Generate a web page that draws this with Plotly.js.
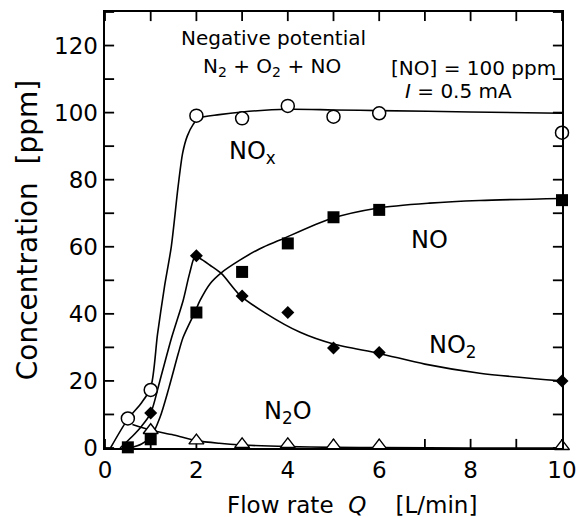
<!DOCTYPE html>
<html>
<head>
<meta charset="utf-8">
<script src="https://cdn.plot.ly/plotly-3.0.1.min.js"></script>
<style>html,body{margin:0;padding:0;background:#fff;}</style>
</head>
<body>
<div id="chart" style="width:576px;height:517px;"></div>
<script>
// measured points
const flow = [0.5, 1, 2, 3, 4, 5, 6, 10];
const noxPts = [8.8, 17.3, 99.1, 98.3, 102.0, 98.8, 99.8, 94.0];
const noPts = [0.2, 2.6, 40.4, 52.5, 61.0, 68.8, 71.0, 73.9];
const no2Flow = [1, 2, 3, 4, 5, 6, 10];
const no2Pts = [10.4, 57.3, 45.3, 40.4, 29.8, 28.5, 20.0];
const n2oFlow = [1, 2, 3, 4, 5, 6, 10];
const n2oPts = [5.3, 2.2, 1.1, 1.1, 0.7, 0.7, 0.5];

// fitted curves
const noxCurveX = [0.12, 0.5, 0.8, 1.0, 1.15, 1.3, 1.45, 1.6, 1.7, 1.8, 1.93, 2.05, 2.5, 3, 4, 5, 6, 8, 10];
const noxCurveY = [0, 8.6, 13.5, 18, 34, 48, 60, 78, 88, 93, 96.5, 98.3, 99.4, 100.2, 101, 100.8, 100.6, 100.2, 99.8];
const noCurveX = [0.55, 0.8, 1.0, 1.2, 1.4, 1.6, 1.71, 1.97, 2.08, 2.3, 2.55, 2.95, 3.4, 3.83, 4.92, 5.95, 7.1, 8.2, 10];
const noCurveY = [0, 1.2, 3.2, 9, 18, 28, 33, 40.6, 44, 49, 52.3, 56, 59.5, 62, 68.3, 71.5, 73, 73.8, 74.4];
const no2CurveX = [0.33, 0.6, 0.8, 1.0, 1.2, 1.46, 1.71, 1.85, 1.97, 2.08, 2.3, 2.55, 2.95, 3.5, 4.27, 5, 6, 7, 8.2, 10];
const no2CurveY = [0, 3.5, 6.5, 10.4, 20, 33, 44, 52, 57, 56.5, 54.5, 52, 45.6, 40.3, 34.5, 31, 28.2, 25, 22.3, 20];
const n2oCurveX = [0.6, 1.0, 1.5, 2.0, 2.5, 3, 4, 5, 6, 8, 10];
const n2oCurveY = [7, 5.3, 3.9, 2.2, 1.4, 0.9, 0.4, 0.2, 0.1, 0, 0];

// axes and ticks
const xRange = [0, 10];
const yRange = [0, 130];
const xTickVals = [0, 1, 2, 3, 4, 5, 6, 7, 8, 9, 10];
const xTickText = ['0', ' ', '2', ' ', '4', ' ', '6', ' ', '8', ' ', '10'];
const yTickVals = [0, 10, 20, 30, 40, 50, 60, 70, 80, 90, 100, 110, 120, 130];
const yTickText = ['0', ' ', '20', ' ', '40', ' ', '60', ' ', '80', ' ', '100', ' ', '120', ' '];

const FONT = 'DejaVu Sans';
const curveLine = {color: '#000', width: 1.6, shape: 'spline', smoothing: 0.8};

// inside tick marks: line markers centred on the frame, outer half clipped by the plot area
const tickMarker = (sym) => ({symbol: sym, size: 13, color: '#000', line: {color: '#000', width: 1.8}});
const tickTrace = (xs, ys, sym) => ({x: xs, y: ys, mode: 'markers', cliponaxis: true,
  hoverinfo: 'skip', marker: tickMarker(sym)});

const traces = [
  {x: noxCurveX, y: noxCurveY, mode: 'lines', line: curveLine, hoverinfo: 'skip'},
  {x: noCurveX, y: noCurveY, mode: 'lines', line: curveLine, hoverinfo: 'skip'},
  {x: no2CurveX, y: no2CurveY, mode: 'lines', line: curveLine, hoverinfo: 'skip'},
  {x: n2oCurveX, y: n2oCurveY, mode: 'lines', line: curveLine, hoverinfo: 'skip'},
  tickTrace(xTickVals, xTickVals.map(() => yRange[0]), 'line-ns-open'),
  tickTrace(xTickVals, xTickVals.map(() => yRange[1]), 'line-ns-open'),
  tickTrace(yTickVals.map(() => xRange[0]), yTickVals, 'line-ew-open'),
  tickTrace(yTickVals.map(() => xRange[1]), yTickVals, 'line-ew-open'),
  {x: n2oFlow, y: n2oPts, mode: 'markers', cliponaxis: false,
   marker: {symbol: 'triangle-up', size: 13, color: '#fff', line: {color: '#000', width: 1.4}}},
  {x: no2Flow, y: no2Pts, mode: 'markers', cliponaxis: false,
   marker: {symbol: 'diamond', size: 10, color: '#000', line: {color: '#000', width: 0}}},
  {x: flow, y: noPts, mode: 'markers', cliponaxis: false,
   marker: {symbol: 'square', size: 12, color: '#000', line: {color: '#000', width: 0}}},
  {x: flow, y: noxPts, mode: 'markers', cliponaxis: false,
   marker: {symbol: 'circle', size: 13, color: '#fff', line: {color: '#000', width: 1.5}}}
];

const ann = (x, y, text, size, extra) => Object.assign({
  x: x, y: y, xref: 'x', yref: 'y', text: text, showarrow: false,
  font: {family: FONT, size: size, color: '#000'}
}, extra || {});

const axisCommon = {
  showgrid: false, zeroline: false,
  showline: true, linecolor: 'black', linewidth: 2.4, mirror: true,
  ticks: '', tickfont: {family: FONT, size: 23, color: '#000'}
};

const layout = {
  width: 576, height: 517,
  margin: {l: 105, r: 14, t: 12, b: 69},
  paper_bgcolor: '#fff', plot_bgcolor: '#fff',
  showlegend: false,
  font: {family: FONT, color: '#000'},
  xaxis: Object.assign({}, axisCommon, {
    range: xRange,
    tickmode: 'array', tickvals: xTickVals, ticktext: xTickText,
    ticklabeloverflow: 'allow'
  }),
  yaxis: Object.assign({}, axisCommon, {
    range: yRange,
    tickmode: 'array', tickvals: yTickVals, ticktext: yTickText,
    title: {text: 'Concentration  [ppm]', font: {family: FONT, size: 28, color: '#000'}, standoff: 8}
  }),
  annotations: [
    ann(3.68, 122.3, 'Negative potential', 20),
    ann(3.65, 113.6, 'N<sub>2</sub> + O<sub>2</sub> + NO', 20),
    ann(8.07, 113.2, '[NO] = 100 ppm', 20),
    ann(6.52, 106.4, '<i>I</i> = 0.5 mA', 20, {xanchor: 'left'}),
    ann(3.22, 88, 'NO<sub>x</sub>', 24),
    ann(7.11, 61.9, 'NO', 24),
    ann(7.62, 30.4, 'NO<sub>2</sub>', 24),
    ann(4.0, 10.7, 'N<sub>2</sub>O', 24),
    {x: 5.4, y: -0.131, xref: 'x', yref: 'paper', yanchor: 'middle', showarrow: false,
     text: 'Flow rate  <i>Q</i>    [L/min]', font: {family: FONT, size: 23, color: '#000'}}
  ]
};

Plotly.newPlot('chart', traces, layout, {displayModeBar: false, staticPlot: true});
</script>
</body>
</html>
